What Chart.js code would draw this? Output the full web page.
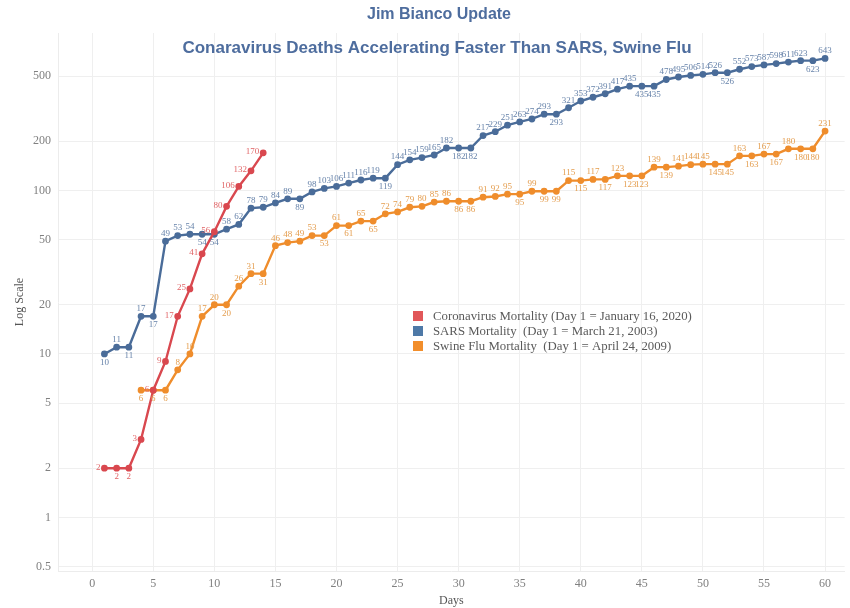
<!DOCTYPE html>
<html>
<head>
<meta charset="utf-8">
<script src="https://cdn.jsdelivr.net/npm/chart.js@4.4.1/dist/chart.umd.min.js"></script>
<style>
  html, body { margin: 0; padding: 0; background: #ffffff; }
  #wrap { width: 850px; height: 608px; position: relative; }
</style>
</head>
<body>
<div id="wrap"><canvas id="chart"></canvas></div>
<script>
// Cumulative deaths by day since outbreak start
const coronaFirstDay = 1;
const coronaDeaths = [2, 2, 2, 3, 6, 9, 17, 25, 41, 56, 80, 106, 132, 170];

const sarsFirstDay = 1;
const sarsDeaths = [
  10, 11, 11, 17, 17, 49, 53, 54, 54, 54,
  58, 62, 78, 79, 84, 89, 89, 98, 103, 106,
  111, 116, 119, 119, 144, 154, 159, 165, 182, 182,
  182, 217, 229, 251, 263, 274, 293, 293, 321, 353,
  372, 391, 417, 435, 435, 435, 478, 495, 506, 514,
  526, 526, 552, 573, 587, 598, 611, 623, 623, 643
];

const swineFirstDay = 4;
const swineDeaths = [
  6, 6, 6, 8, 10, 17, 20,
  20, 26, 31, 31, 46, 48, 49, 53, 53, 61,
  61, 65, 65, 72, 74, 79, 80, 85, 86, 86,
  86, 91, 92, 95, 95, 99, 99, 99, 115, 115,
  117, 117, 123, 123, 123, 139, 139, 141, 144, 145,
  145, 145, 163, 163, 167, 167, 180, 180, 180, 231
];

const seriesNames = [
  'Coronavirus Mortality (Day 1 = January 16, 2020)',
  'SARS Mortality  (Day 1 = March 21, 2003)',
  'Swine Flu Mortality  (Day 1 = April 24, 2009)'
];

const yTickValues = [0.5, 1, 2, 5, 10, 20, 50, 100, 200, 500];
const xTickValues = [0, 5, 10, 15, 20, 25, 30, 35, 40, 45, 50, 55, 60];

const chartTitle = 'Jim Bianco Update';
const chartSubtitle = 'Conaravirus Deaths Accelerating Faster Than SARS, Swine Flu';
const xAxisTitle = 'Days';
const yAxisTitle = 'Log Scale';

function toPoints(firstDay, values) {
  return values.map((v, i) => ({ x: firstDay + i, y: v }));
}

const SERIF = "'Liberation Serif', 'DejaVu Serif', serif";
const SANS = "'Liberation Sans', Arial, sans-serif";

// value labels next to each point
const valueLabels = {
  id: 'valueLabels',
  afterDatasetsDraw(chart) {
    const ctx = chart.ctx;
    chart.data.datasets.forEach((ds, di) => {
      const meta = chart.getDatasetMeta(di);
      ctx.save();
      ctx.font = '9px ' + SERIF;
      ctx.fillStyle = ds.labelColor;
      meta.data.forEach((pt, i) => {
        const v = ds.data[i].y;
        const prev = i > 0 ? ds.data[i - 1].y : null;
        const rising = prev === null || v > prev;
        if (ds.labelSide === 'left' && rising) {
          ctx.textAlign = 'right';
          ctx.textBaseline = 'middle';
          ctx.fillText(String(v), pt.x - 4, pt.y - 1);
        } else if (rising && prev !== null) {
          ctx.textAlign = 'center';
          ctx.textBaseline = 'bottom';
          ctx.fillText(String(v), pt.x, pt.y - 3);
        } else {
          ctx.textAlign = 'center';
          ctx.textBaseline = 'top';
          ctx.fillText(String(v), pt.x, pt.y + 4);
        }
      });
      ctx.restore();
    });
  }
};

// titles, axis titles and the inset legend
const decorations = {
  id: 'decorations',
  afterDraw(chart) {
    const ctx = chart.ctx;
    const area = chart.chartArea;
    ctx.save();
    ctx.fillStyle = '#4e6d9e';
    ctx.textAlign = 'center';
    ctx.textBaseline = 'middle';
    ctx.font = 'bold 16px ' + SANS;
    ctx.fillText(chartTitle, 439, 15);
    ctx.font = 'bold 17px ' + SANS;
    ctx.fillText(chartSubtitle, 437, 48);

    ctx.fillStyle = '#555555';
    ctx.font = '12px ' + SERIF;
    ctx.fillText(xAxisTitle, (area.left + area.right) / 2, 601);
    ctx.save();
    ctx.translate(20, (area.top + area.bottom) / 2);
    ctx.rotate(-Math.PI / 2);
    ctx.fillText(yAxisTitle, 0, 0);
    ctx.restore();

    // legend
    ctx.textAlign = 'left';
    ctx.font = '12.8px ' + SERIF;
    chart.data.datasets.forEach((ds, i) => {
      const y = 316 + i * 15;
      ctx.fillStyle = ds.legendColor;
      ctx.fillRect(413, y - 5, 10, 10);
      ctx.fillStyle = '#5a5a5a';
      ctx.fillText(ds.label, 433, y + 1);
    });
    ctx.restore();
  }
};

const commonLine = {
  borderWidth: 2.4,
  pointRadius: 2.2,
  pointHoverRadius: 3,
  tension: 0,
  fill: false
};

new Chart(document.getElementById('chart'), {
  type: 'line',
  data: {
    datasets: [
      Object.assign({
        label: seriesNames[0],
        data: toPoints(coronaFirstDay, coronaDeaths),
        borderColor: '#d9484f',
        backgroundColor: '#d9484f',
        legendColor: '#e15759',
        labelColor: '#e06466',
        labelSide: 'left',
        order: 0
      }, commonLine),
      Object.assign({
        label: seriesNames[1],
        data: toPoints(sarsFirstDay, sarsDeaths),
        borderColor: '#4a6c99',
        backgroundColor: '#4a6c99',
        legendColor: '#4e79a7',
        labelColor: '#6783aa',
        order: 1
      }, commonLine),
      Object.assign({
        label: seriesNames[2],
        data: toPoints(swineFirstDay, swineDeaths),
        borderColor: '#ef8d2c',
        backgroundColor: '#ef8d2c',
        legendColor: '#f28e2b',
        labelColor: '#e49d4e',
        order: 2
      }, commonLine)
    ]
  },
  options: {
    responsive: true,
    maintainAspectRatio: false,
    animation: false,
    layout: { padding: { top: 33, right: 2, left: 0, bottom: 0 } },
    plugins: {
      legend: { display: false },
      title: { display: false },
      tooltip: { enabled: false }
    },
    scales: {
      x: {
        type: 'linear',
        min: -2.8,
        max: 61.6,
        afterBuildTicks(scale) {
          scale.ticks = xTickValues.map(v => ({ value: v }));
        },
        afterFit(scale) { scale.height = 37; },
        grid: { color: '#efefef', drawTicks: false },
        border: { display: true, color: '#ececec' },
        ticks: {
          color: '#808080',
          font: { family: SERIF, size: 12 },
          padding: 6,
          maxRotation: 0,
          callback: v => String(v)
        }
      },
      y: {
        type: 'logarithmic',
        min: 0.47,
        max: 920,
        afterBuildTicks(scale) {
          scale.ticks = yTickValues.map(v => ({ value: v }));
        },
        afterFit(scale) { scale.width = 58; },
        grid: { color: '#efefef', drawTicks: false },
        border: { display: true, color: '#ececec' },
        ticks: {
          color: '#808080',
          font: { family: SERIF, size: 12 },
          padding: 7,
          callback: v => String(v)
        }
      }
    }
  },
  plugins: [valueLabels, decorations]
});
</script>
</body>
</html>
